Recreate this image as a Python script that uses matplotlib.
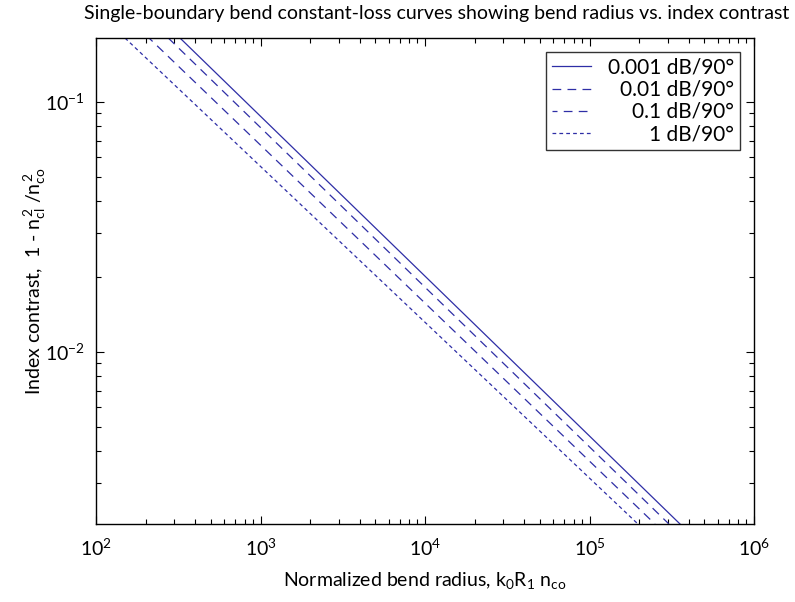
import numpy as np
import matplotlib
matplotlib.use("Agg")
import matplotlib.pyplot as plt

# constant-loss curves, end points (top edge / bottom edge)
labels = ["0.001 dB/90°", "0.01 dB/90°", "0.1 dB/90°", "1 dB/90°"]
radius_start = [324, 275, 210, 150]
radius_end = [3.55e5, 3.04e5, 2.5e5, 1.97e5]
contrast_start = [0.18, 0.18, 0.18, 0.18]
contrast_end = [0.00205, 0.00205, 0.00205, 0.00205]
styles = ["-", (0, (7, 5)), (3, (7, 5)), (0, (3, 2.5))]

plt.rcParams['font.family'] = ['Lato', 'DejaVu Sans']
plt.rcParams['mathtext.fontset'] = 'custom'
plt.rcParams['mathtext.rm'] = 'Lato'
plt.rcParams['mathtext.it'] = 'Lato'
plt.rcParams['mathtext.default'] = 'regular'

kolor = '#2e2ea6'

fig = plt.figure(figsize=(7.95, 6.02), dpi=100)
ax = fig.add_axes([96 / 795, 1 - 524 / 602, (754 - 96) / 795, (524 - 38) / 602])

for i in range(len(labels)):
    ax.plot([radius_start[i], radius_end[i]], [contrast_start[i], contrast_end[i]],
            color=kolor, lw=0.9, linestyle=styles[i], label=labels[i])

ax.set_xscale('log')
ax.set_yscale('log')
ax.set_xlim(1e2, 1e6)
ax.set_ylim(0.00205, 0.18)

ax.tick_params(which='both', direction='in', top=True, right=True, labelsize=14)
ax.tick_params(which='major', length=6, width=0.8)
ax.tick_params(which='minor', length=3.5, width=0.8)
ax.tick_params(axis='x', pad=10)
ax.tick_params(axis='y', pad=8)
for s in ax.spines.values():
    s.set_linewidth(1.0)

ax.set_xlabel(r'Normalized bend radius, k$_0$R$_1$ n$_{co}$', fontsize=14, labelpad=8)
ax.set_ylabel(r'Index contrast,  1 - n$_{cl}^{\,2}$ /n$_{co}^{\,2}$', fontsize=14, labelpad=-2)
fig.text(437 / 795, 1 - 14 / 602, 'Single-boundary bend constant-loss curves showing bend radius vs. index contrast',
         ha='center', va='center', fontsize=14)

leg = ax.legend(loc='upper right', fontsize=15, frameon=True, fancybox=False,
                edgecolor='black', borderaxespad=0.65, handlelength=1.9,
                labelspacing=0.1, borderpad=0.3, handletextpad=0.8)
leg.get_frame().set_linewidth(1.0)

# prawe wyrownanie etykiet jak w matlabie
fig.canvas.draw()
renderer = fig.canvas.get_renderer()
szer = [t.get_window_extent(renderer).width for t in leg.get_texts()]
for t, w in zip(leg.get_texts(), szer):
    t.set_position((max(szer) - w, 0))

fig.savefig('out.png', dpi=100)
